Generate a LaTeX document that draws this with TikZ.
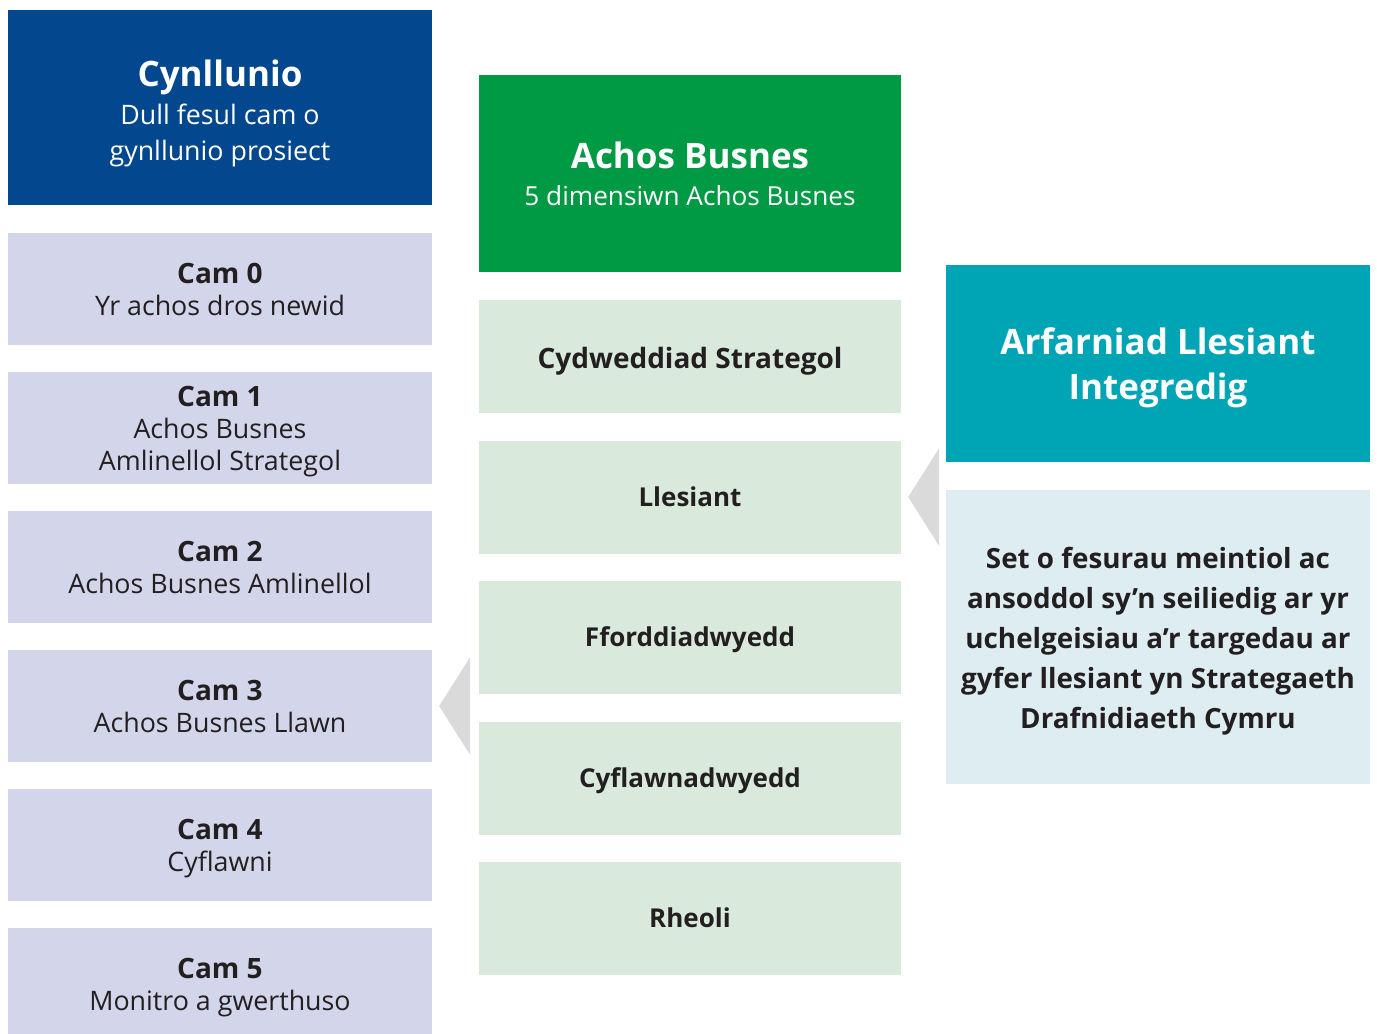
\documentclass[tikz,border=0pt]{standalone}
\usepackage{fontspec}
\setmainfont{Open Sans}
\usetikzlibrary{calc}
\definecolor{planblue}{HTML}{03488F}
\definecolor{camlav}{HTML}{D3D5EA}
\definecolor{abgreen}{HTML}{009A44}
\definecolor{dimgreen}{HTML}{D9EADD}
\definecolor{alteal}{HTML}{00A5B5}
\definecolor{setblue}{HTML}{DEEDF2}
\definecolor{pointgray}{HTML}{DADADA}
\definecolor{inktext}{HTML}{231F20}
% struts so that the cap line and the last baseline sit centred in a box
\newcommand\caprule[1][0pt]{\rule{0pt}{\dimexpr0.714em+10pt+#1\relax}}
\newcommand\lowrule{\rule[-10pt]{0pt}{10pt}}
\tikzset{
    box/.style={inner sep=0pt, align=center, minimum width=424pt},
    planbox/.style={box, fill=planblue, text=white, minimum height=195pt,
        font=\fontsize{26.8}{36}\selectfont},
    cambox/.style={box, fill=camlav, text=inktext, minimum height=112pt,
        font=\fontsize{26.8}{32}\selectfont},
    abbox/.style={box, fill=abgreen, text=white, minimum width=422pt, minimum height=197pt,
        font=\fontsize{26.2}{37}\selectfont},
    dimbox/.style={box, fill=dimgreen, text=inktext, minimum width=422pt, minimum height=113pt,
        font=\fontsize{26}{32}\selectfont\bfseries},
    albox/.style={box, fill=alteal, text=white, minimum height=197pt,
        font=\fontsize{35}{45}\selectfont\bfseries},
    setbox/.style={box, fill=setblue, text=inktext, minimum height=294pt,
        font=\fontsize{27.8}{40}\selectfont\bfseries},
    pointer/.style={fill=pointgray},
}

\begin{document}
\begin{tikzpicture}[x=1pt,y=-1pt]
    \clip (0,0) rectangle (1377,1034);
    \fill[white] (0,0) rectangle (1377,1034);
    % left column: planning steps
    \node[planbox] (plan) at (220,107.5)
        {{\fontsize{35}{38}\selectfont\bfseries\caprule[8pt]Cynllunio}\\[2pt] Dull fesul cam o\\ gynllunio prosiect\lowrule};
    \foreach \i/\txt in {0/Yr achos dros newid, 1/{Achos Busnes\\Amlinellol Strategol},
        2/Achos Busnes Amlinellol, 3/Achos Busnes Llawn, 4/Cyflawni, 5/Monitro a gwerthuso}
        \node[cambox] (cam\i) at (220,289+139*\i)
            {{\fontsize{28}{32}\selectfont\bfseries\caprule[1pt]Cam \i}\\ \txt\lowrule};
    % middle column: the five dimensions
    \node[abbox] (achos) at (690,173.5)
        {{\fontsize{35}{37}\selectfont\bfseries\caprule[3pt]Achos Busnes}\\ 5 dimensiwn Achos Busnes\lowrule};
    \node[dimbox, font=\fontsize{28}{32}\selectfont\bfseries] (strateg) at (690,356.5)
        {\caprule[4pt]Cydweddiad Strategol\lowrule};
    \node[dimbox] (llesiant) at (690,497) {\caprule Llesiant\lowrule};
    \node[dimbox] (fford) at (690,637.5) {\caprule Fforddiadwyedd\lowrule};
    \node[dimbox] (cyflawn) at (690,778) {\caprule Cyflawnadwyedd\lowrule};
    \node[dimbox] (rheoli) at (690,918.5) {\caprule Rheoli\lowrule};
    % right column
    \node[albox] (arfarn) at (1158,363.5) {\caprule[2pt]Arfarniad Llesiant\\ Integredig\lowrule};
    \node[setbox] (mesur) at (1158,637)
        {\caprule[4pt]Set o fesurau meintiol ac\\ ansoddol sy’n seiliedig ar yr\\ uchelgeisiau a’r targedau ar\\
         gyfer llesiant yn Strategaeth\\ Drafnidiaeth Cymru\lowrule};
    % pointers
    \fill[pointer] ($(cam3.east)+(7,0)$) -- ++(31,-49) -- ++(0,98) -- cycle;
    \fill[pointer] ($(llesiant.east)+(7,0)$) -- ++(31,-49) -- ++(0,98) -- cycle;
\end{tikzpicture}
\end{document}
